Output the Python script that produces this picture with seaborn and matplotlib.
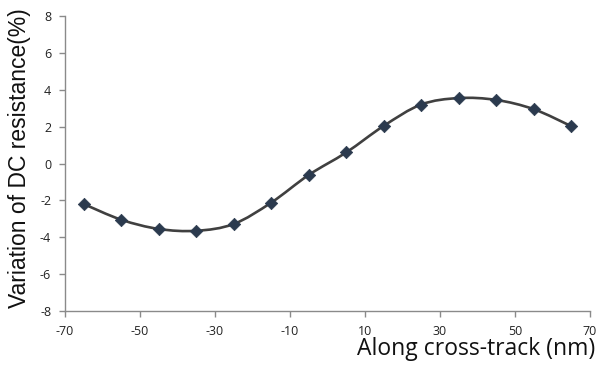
import numpy as np
import matplotlib
matplotlib.use("Agg")
import matplotlib.pyplot as plt
from matplotlib.path import Path
from matplotlib.patches import PathPatch
import seaborn as sns
import pandas as pd

x_nm = [-65, -55, -45, -35, -25, -15, -5, 5, 15, 25, 35, 45, 55, 65]
dc_var = [-2.2, -3.05, -3.55, -3.65, -3.28, -2.12, -0.62, 0.6, 2.04, 3.2, 3.55, 3.45, 2.95, 2.03]
x_ticks = [-70, -50, -30, -10, 10, 30, 50, 70]
y_ticks = [-8, -6, -4, -2, 0, 2, 4, 6, 8]

sns.set_style("white")
plt.rcParams['font.family'] = ['Open Sans', 'DejaVu Sans']

df = pd.DataFrame({"x": x_nm, "y": dc_var})

fig = plt.figure(figsize=(5.97, 3.65), dpi=100)
ax = fig.add_axes([0.109, 0.148, 0.879, 0.808])

# smooth (Excel-like) line built as Bezier segments from the data points
xs = np.asarray(x_nm, float)
ys = np.asarray(dc_var, float)
pts = np.column_stack([xs, ys])
verts = [pts[0]]
codes = [Path.MOVETO]
n = len(pts)
for i in range(n - 1):
    p0 = pts[i - 1] if i > 0 else pts[i]
    p1 = pts[i]
    p2 = pts[i + 1]
    p3 = pts[i + 2] if i + 2 < n else pts[i + 1]
    c1 = p1 + (p2 - p0) / 6.0
    c2 = p2 - (p3 - p1) / 6.0
    verts += [c1, c2, p2]
    codes += [Path.CURVE4] * 3
ax.add_patch(PathPatch(Path(verts, codes), facecolor="none", edgecolor="#404040", lw=1.9, zorder=2))

sns.scatterplot(data=df, x="x", y="y", marker="D", s=40, color="#2b3a4e",
                edgecolor="#2b3a4e", ax=ax, zorder=3)

ax.set_xlim(-70, 70)
ax.set_ylim(-8, 8)
ax.set_xticks(x_ticks)
ax.set_yticks(y_ticks)
ax.set_xticklabels([str(t) for t in x_ticks], fontsize=9, color="#222222")
ax.set_yticklabels([str(t) for t in y_ticks], fontsize=9, color="#222222")
ax.tick_params(axis="both", length=4, width=1, color="#8a8a8a", direction="out",
               bottom=True, left=True, pad=6)
for s in ["top", "right"]:
    ax.spines[s].set_visible(False)
for s in ["left", "bottom"]:
    ax.spines[s].set_color("#8a8a8a")
    ax.spines[s].set_linewidth(1.0)

ax.set_xlabel("")
ax.set_ylabel("")
fig.text(0.032, 0.568, "Variation of DC resistance(%)", rotation=90, ha="center", va="center",
         fontsize=16.5, family=["Liberation Sans", "DejaVu Sans"], color="#111111")
fig.text(0.997, 0.012, "Along cross-track (nm)", ha="right", va="bottom",
         fontsize=16.5, color="#111111")

fig.savefig("out.png", dpi=100)
